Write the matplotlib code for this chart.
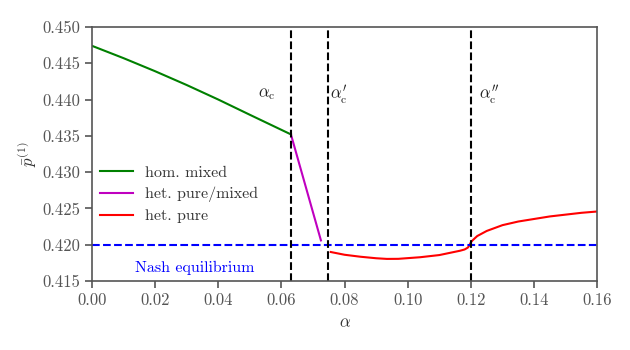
import matplotlib
matplotlib.use('Agg')
import matplotlib.pyplot as plt
import numpy as np

plt.rcParams['font.family'] = 'serif'
plt.rcParams['font.serif'] = ['cmr10', 'DejaVu Serif']
plt.rcParams['mathtext.fontset'] = 'cm'
plt.rcParams['axes.formatter.use_mathtext'] = True
plt.rcParams['axes.unicode_minus'] = False

# homogeneous mixed branch
alpha_hom = [0.0, 0.01, 0.02, 0.03, 0.04, 0.05, 0.063]
p_hom = [0.4474, 0.4457, 0.4439, 0.4420, 0.4400, 0.4379, 0.4352]

# heterogeneous pure/mixed branch
alpha_mix = [0.063, 0.0725]
p_mix = [0.4352, 0.4206]

# heterogeneous pure branch
alpha_pure = [0.0756, 0.08, 0.085, 0.09, 0.0934, 0.097, 0.1039, 0.11, 0.1166,
              0.118, 0.119, 0.1195, 0.12, 0.1205, 0.122, 0.125, 0.13, 0.135,
              0.14, 0.145, 0.15, 0.155, 0.16]
p_pure = [0.4190, 0.41862, 0.41835, 0.41814, 0.41805, 0.41806, 0.41828,
          0.41858, 0.41918, 0.41935, 0.4196, 0.4199, 0.42035, 0.4206, 0.4212,
          0.4219, 0.4227, 0.4232, 0.42355, 0.4239, 0.42415, 0.4244, 0.42458]

nash = 0.420
alpha_crit = [0.063, 0.0748, 0.12]
crit_labels = [r'$\alpha_{\rm c}$', r"$\alpha_{\rm c}'$", r"$\alpha_{\rm c}''$"]
crit_label_x = [0.0525, 0.0755, 0.1225]

fig = plt.figure(figsize=(6.3, 3.5), dpi=100)
ax = fig.add_axes([0.146, 0.197, 0.802, 0.726])

ax.plot(alpha_hom, p_hom, color='green', lw=1.5, label='hom. mixed')
ax.plot(alpha_mix, p_mix, color='m', lw=1.5, label='het. pure/mixed')
ax.plot(alpha_pure, p_pure, color='red', lw=1.5, label='het. pure')
ax.axhline(nash, color='blue', ls='--', lw=1.5)
for a in alpha_crit:
    ax.axvline(a, color='black', ls='--', lw=1.5)
for x, s in zip(crit_label_x, crit_labels):
    ax.text(x, 0.4407, s, fontsize=12, color='#222222', va='center')
ax.text(0.0325, 0.4168, 'Nash equilibrium', color='blue', fontsize=11.5,
        ha='center', va='center')

ax.set_xlim(0, 0.16)
ax.set_ylim(0.415, 0.450)
ax.set_xticks(np.arange(0, 0.161, 0.02))
ax.set_yticks(np.arange(0.415, 0.4501, 0.005))
ax.set_xticklabels(['%.2f' % v for v in np.arange(0, 0.161, 0.02)])
ax.set_yticklabels(['%.3f' % v for v in np.arange(0.415, 0.4501, 0.005)])
ax.tick_params(direction='out', length=5, width=1.2, colors='#555555',
               labelsize=12, top=False, right=False)
for sp in ax.spines.values():
    sp.set_color('#555555')
    sp.set_linewidth(1.2)

ax.set_xlabel(r'$\alpha$', fontsize=12, color='#333333', labelpad=5)
ax.set_ylabel(r'$\bar{p}^{(1)}$', fontsize=12, color='#333333', labelpad=2)

leg = ax.legend(loc='upper left', bbox_to_anchor=(-0.012, 0.51), frameon=False,
                fontsize=11.5, handlelength=2.05, handletextpad=0.75,
                labelspacing=0.42)
for t in leg.get_texts():
    t.set_color('#333333')

fig.savefig('out.png', dpi=100)
